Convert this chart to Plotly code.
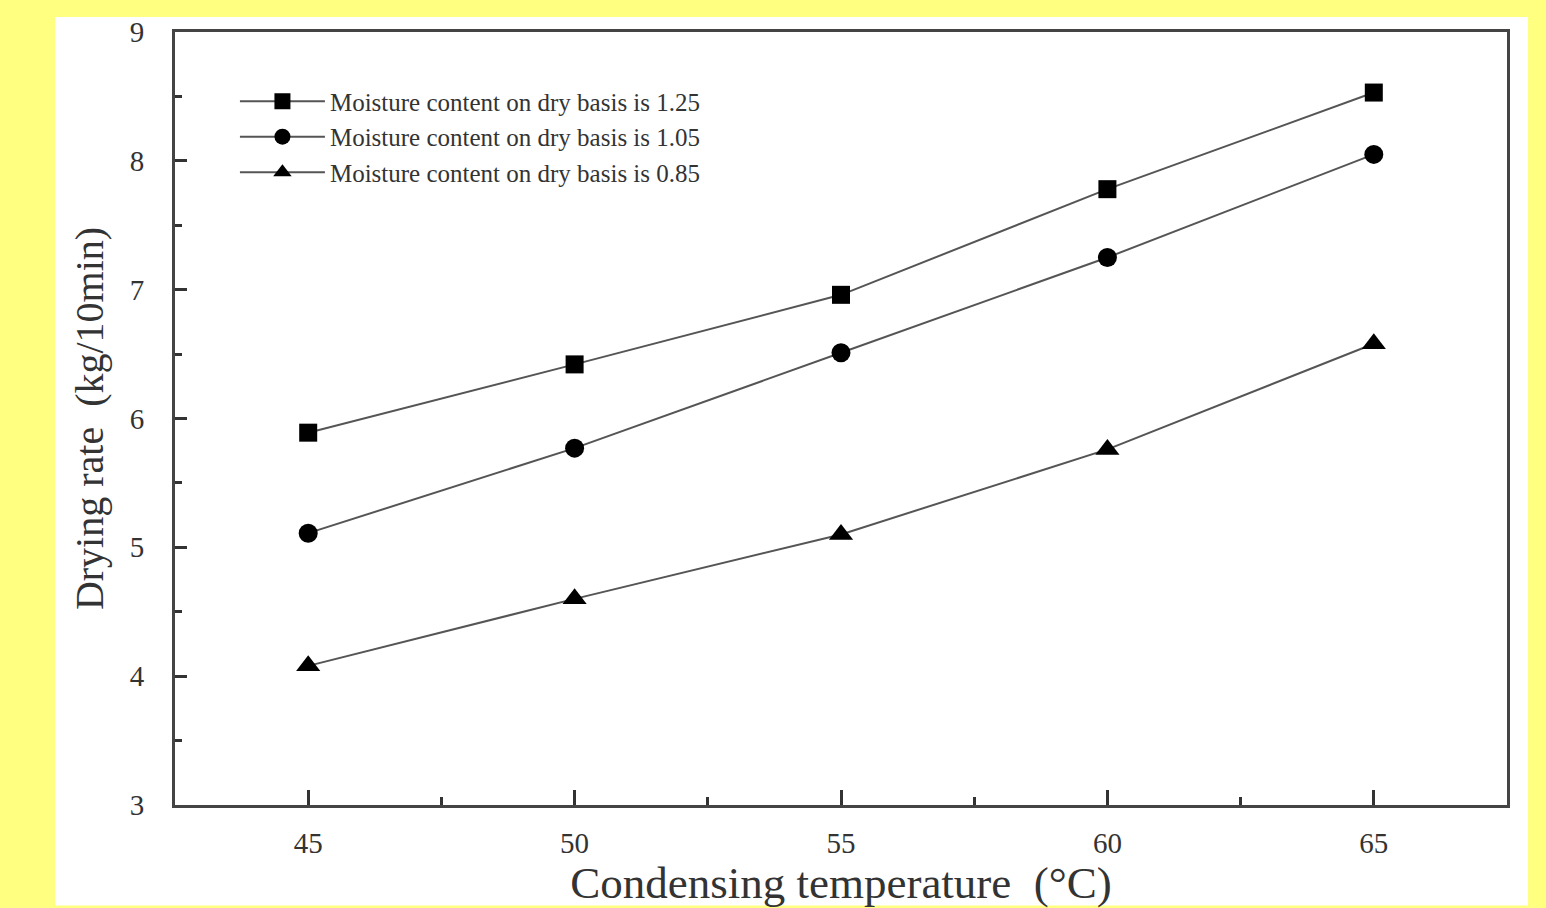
import plotly.graph_objects as go

temps = [45, 50, 55, 60, 65]
rate_125 = [5.89, 6.42, 6.96, 7.78, 8.53]
rate_105 = [5.11, 5.77, 6.51, 7.25, 8.05]
rate_085 = [4.08, 4.60, 5.10, 5.76, 6.58]
names = ["Moisture content on dry basis is 1.25",
         "Moisture content on dry basis is 1.05",
         "Moisture content on dry basis is 0.85"]
symbols = ["square", "circle", "triangle-up"]
marker_sizes = [18, 19, 21]
y_ticks = [3, 4, 5, 6, 7, 8, 9]
x_ticks = [45, 50, 55, 60, 65]

FONT = "Liberation Serif, Times New Roman, serif"

fig = go.Figure()
for ys, nm, sym, ms in zip([rate_125, rate_105, rate_085], names, symbols, marker_sizes):
    fig.add_trace(go.Scatter(
        x=temps, y=ys, name=nm, mode="lines+markers",
        line=dict(color="#555555", width=2),
        marker=dict(symbol=sym, size=ms, color="black"),
    ))

axis_common = dict(
    showline=True, linecolor="#444444", linewidth=3, mirror=True,
    ticks="inside", tickcolor="#333333", tickwidth=3,
    showgrid=False, zeroline=False,
    tickfont=dict(family=FONT, size=29, color="#333333"),
)

fig.update_xaxes(
    range=[42.5, 67.5], tickvals=x_ticks, ticklen=15,
    minor=dict(ticks="inside", dtick=2.5, tick0=45, ticklen=8, tickcolor="#333333", tickwidth=3),
    title=dict(text="Condensing temperature  (°C)", font=dict(family=FONT, size=45, color="#333333"), standoff=6),
    ticklabelstandoff=10,
    **axis_common,
)
fig.update_yaxes(
    range=[3, 9], tickvals=y_ticks, ticklen=12,
    minor=dict(ticks="inside", dtick=0.5, tick0=3, ticklen=7, tickcolor="#333333", tickwidth=3),
    title=dict(text="Drying rate  (kg/10min)", font=dict(family=FONT, size=40, color="#333333"), standoff=14),
    ticklabelstandoff=22,
    **axis_common,
)

fig.add_shape(type="rect", xref="paper", yref="paper",
              x0=-0.0901, x1=1.0158, y0=-0.13, y1=1.0193,
              fillcolor="white", line=dict(width=0), layer="below")

fig.update_layout(
    width=1546, height=908,
    margin=dict(l=175, r=39, t=32, b=98),
    paper_bgcolor="#FFFF80", plot_bgcolor="white",
    font=dict(family=FONT, color="#333333"),
    legend=dict(x=0.045, y=0.94, xanchor="left", yanchor="top",
                bgcolor="rgba(0,0,0,0)", font=dict(family=FONT, size=25, color="#333333"),
                itemwidth=85, tracegroupgap=0),
    showlegend=True,
)

fig.write_html("out.html")
